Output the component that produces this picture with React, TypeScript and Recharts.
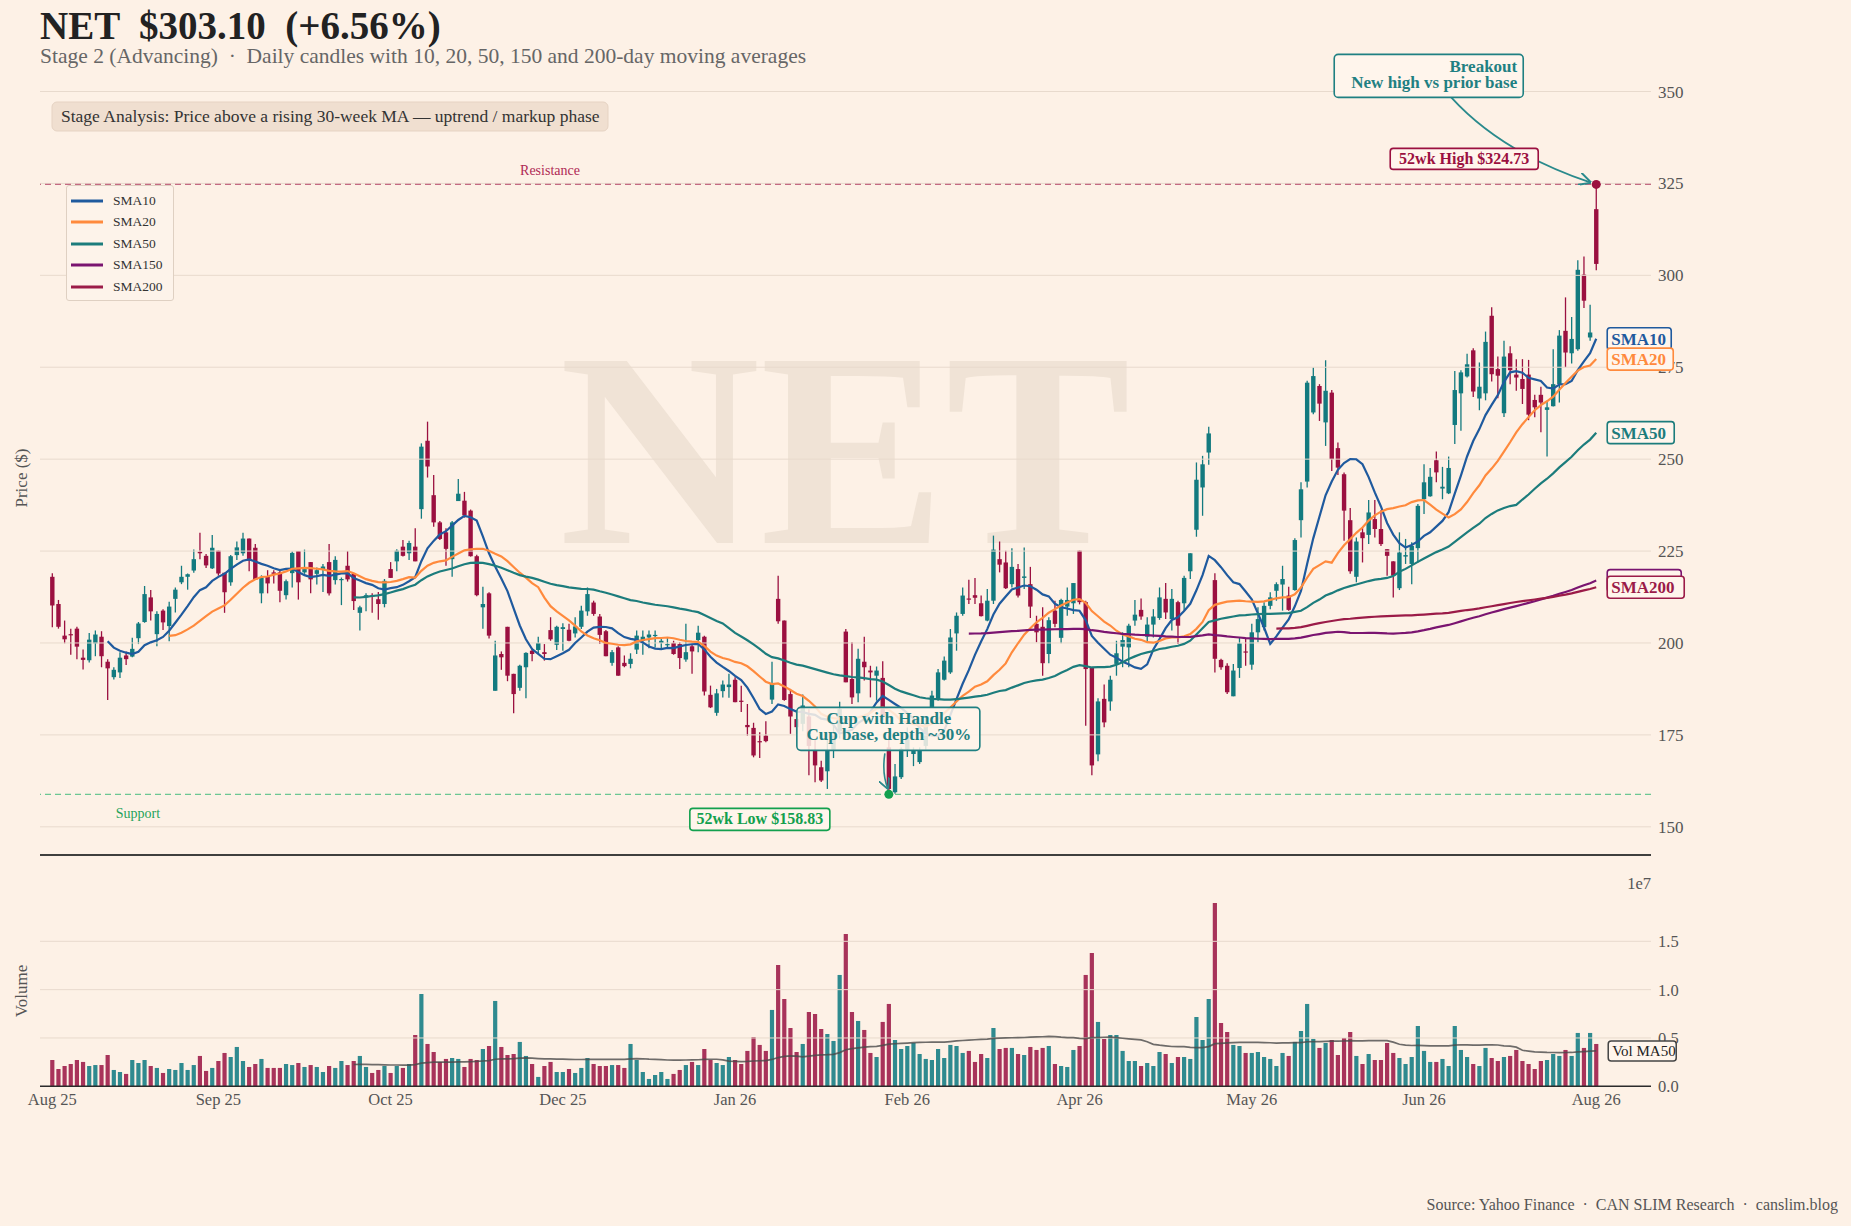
import React from 'react';
import {
  ComposedChart,
  Bar,
  Line,
  XAxis,
  YAxis,
  ReferenceLine,
  ReferenceDot,
  Legend,
  Cell,
} from 'recharts';

const FONT = '"Liberation Serif", "DejaVu Serif", serif';
const BG = '#fdf1e6';
const UP = '#137a7f';
const DOWN = '#9b1040';
const VOL_UP = '#2f8a8f';
const VOL_DOWN = '#a8335a';
const GRID = '#e8dacd';
const TEXT = '#555';

// daily candles, Aug 25 .. Aug 26
const openPx = [
  218.0, 210.6, 202.0, 202.4, 203.9, 196.0, 195.3, 199.9, 201.7, 194.9,
  190.7, 192.0, 196.6, 196.3, 201.3, 205.7, 212.4, 202.4, 208.8, 204.6,
  212.0, 216.5, 218.0, 219.7, 224.8, 223.7, 220.3, 225.1, 219.1, 216.5,
  223.9, 224.4, 228.4, 225.9, 213.5, 218.0, 219.2, 219.2, 213.0, 219.0,
  225.0, 219.2, 222.0, 218.8, 220.1, 222.0, 217.1, 217.1, 221.0, 218.9,
  208.2, 212.4, 212.9, 211.9, 210.6, 220.1, 222.2, 226.2, 224.4, 226.2,
  236.4, 255.0, 240.2, 232.8, 230.1, 222.8, 238.6, 238.7, 236.0, 223.6,
  209.7, 213.5, 187.0, 197.0, 204.4, 191.6, 187.8, 193.4, 197.9, 198.1,
  197.5, 203.5, 199.5, 203.8, 203.6, 202.6, 204.4, 208.6, 211.0, 207.2,
  203.2, 194.6, 198.8, 194.6, 194.3, 198.2, 200.6, 201.5, 201.9, 200.0,
  199.5, 200.0, 199.7, 195.5, 199.1, 200.8, 201.7, 185.9, 181.0, 186.9,
  188.0, 190.0, 184.3, 177.7, 176.9, 173.3, 174.8, 184.6, 212.0, 206.1,
  186.1, 179.3, 178.0, 180.0, 170.7, 166.2, 165.1, 171.0, 176.0, 203.1,
  190.2, 186.3, 194.9, 192.5, 191.1, 190.5, 171.6, 159.4, 163.5, 171.0,
  169.8, 167.6, 172.0, 182.5, 184.8, 190.0, 192.0, 202.6, 207.9, 212.1,
  213.0, 210.8, 206.1, 211.5, 222.8, 221.9, 216.0, 220.1, 217.7, 216.0,
  205.2, 204.4, 197.0, 208.8, 201.4, 209.9, 210.8, 225.1, 211.1, 193.4,
  169.7, 184.8, 184.1, 194.3, 199.0, 198.8, 206.1, 209.0, 201.7, 205.0,
  206.8, 212.0, 206.5, 211.1, 210.8, 219.5, 230.8, 242.3, 251.8, 217.1,
  195.4, 193.8, 185.5, 193.2, 197.7, 194.1, 202.9, 204.3, 210.1, 214.2,
  215.9, 212.9, 214.4, 233.4, 243.9, 262.7, 269.9, 260.0, 268.1, 253.0,
  245.9, 233.4, 218.0, 230.1, 229.4, 233.7, 231.0, 225.5, 222.2, 214.9,
  223.5, 221.5, 225.8, 239.1, 239.9, 249.7, 242.0, 240.7, 259.3, 267.9,
  272.5, 279.6, 266.5, 267.9, 289.0, 274.5, 262.5, 278.8, 273.0, 271.8,
  273.0, 266.1, 267.5, 263.4, 264.4, 270.4, 284.9, 278.8, 279.9, 300.2,
  283.1, 318.0,
];
const highPx = [
  219.0, 211.7, 206.1, 203.9, 204.4, 198.2, 202.7, 203.4, 203.2, 195.6,
  193.4, 197.5, 197.7, 201.4, 205.7, 215.5, 214.4, 208.6, 209.2, 211.2,
  215.1, 221.0, 218.9, 225.4, 230.0, 224.2, 229.4, 225.1, 219.1, 223.9,
  227.6, 230.0, 228.4, 226.9, 218.4, 219.8, 219.8, 219.8, 217.3, 224.9,
  225.0, 225.4, 222.0, 220.5, 221.5, 226.9, 223.6, 217.8, 225.0, 218.9,
  210.1, 213.5, 213.5, 213.9, 217.4, 222.0, 225.5, 228.0, 227.8, 231.2,
  254.3, 260.2, 245.7, 233.2, 231.2, 233.2, 244.6, 241.1, 236.3, 224.0,
  215.3, 213.8, 200.6, 197.7, 204.4, 191.6, 194.1, 197.5, 198.6, 201.7,
  199.7, 207.0, 204.7, 205.4, 205.2, 207.0, 210.1, 215.1, 211.5, 207.9,
  203.5, 198.1, 199.1, 196.6, 197.2, 203.4, 203.4, 203.4, 203.4, 201.5,
  201.5, 200.6, 200.2, 205.2, 199.7, 204.7, 202.0, 188.4, 187.5, 189.8,
  191.6, 190.7, 188.4, 183.4, 178.3, 175.7, 178.7, 194.9, 218.3, 206.1,
  187.5, 181.6, 186.0, 182.0, 174.0, 168.0, 174.0, 178.0, 184.0, 203.8,
  200.2, 198.4, 201.7, 193.8, 193.6, 195.0, 175.0, 167.1, 171.6, 177.0,
  171.6, 171.6, 180.0, 187.0, 192.9, 196.3, 203.8, 208.3, 215.1, 217.2,
  217.7, 212.9, 214.7, 229.2, 227.6, 225.1, 225.8, 221.5, 226.0, 220.7,
  207.4, 209.7, 207.0, 211.5, 212.0, 215.1, 216.3, 225.1, 211.5, 193.4,
  185.0, 188.7, 191.1, 200.6, 202.9, 205.2, 211.7, 212.1, 207.0, 209.2,
  215.1, 216.3, 214.7, 211.5, 218.3, 224.4, 249.1, 250.9, 258.8, 219.0,
  195.7, 194.5, 194.3, 201.5, 201.4, 205.2, 209.7, 211.1, 213.8, 216.5,
  221.0, 215.3, 228.5, 243.7, 271.3, 274.9, 270.4, 276.9, 268.8, 254.5,
  246.4, 236.7, 228.7, 231.4, 238.9, 238.9, 236.1, 225.5, 222.2, 230.1,
  228.3, 227.4, 237.8, 248.6, 247.6, 252.1, 247.9, 250.7, 274.0, 274.2,
  278.7, 280.2, 276.3, 284.7, 291.3, 277.9, 282.2, 280.7, 277.2, 277.2,
  277.0, 267.5, 269.7, 265.9, 279.9, 285.1, 294.0, 288.7, 304.1, 305.1,
  292.0, 324.73,
];
const lowPx = [
  204.3, 203.9, 199.9, 196.8, 195.6, 192.8, 194.7, 196.4, 193.4, 184.5,
  190.1, 190.5, 194.0, 196.1, 199.7, 205.5, 206.1, 199.1, 203.5, 200.5,
  208.3, 216.0, 214.5, 219.1, 222.8, 220.4, 220.1, 218.3, 208.2, 215.6,
  222.6, 223.7, 219.5, 217.2, 210.8, 213.5, 216.2, 211.1, 211.8, 215.1,
  211.8, 218.8, 213.5, 215.9, 213.9, 212.9, 215.9, 210.3, 216.7, 209.0,
  203.4, 208.6, 208.2, 206.3, 209.7, 217.7, 219.5, 223.5, 222.6, 222.2,
  233.8, 245.0, 231.6, 228.0, 221.0, 218.0, 238.6, 234.1, 223.5, 212.7,
  203.9, 201.2, 187.0, 192.7, 189.6, 180.9, 187.0, 185.0, 195.0, 197.0,
  195.2, 200.6, 198.1, 197.9, 200.5, 201.5, 203.8, 207.4, 207.4, 199.7,
  196.4, 193.8, 191.1, 193.4, 193.1, 197.0, 196.8, 198.6, 198.8, 198.4,
  198.4, 196.8, 192.9, 194.9, 191.6, 197.5, 185.7, 182.3, 180.2, 185.2,
  185.1, 183.9, 181.2, 174.8, 168.9, 168.7, 173.0, 183.4, 205.2, 184.3,
  175.3, 175.3, 176.0, 164.0, 162.1, 162.2, 160.3, 168.7, 174.0, 189.3,
  183.4, 183.9, 189.8, 185.2, 184.3, 179.0, 158.83, 159.0, 163.0, 169.0,
  166.5, 167.1, 171.0, 182.3, 184.3, 189.8, 191.6, 197.9, 207.4, 210.6,
  210.6, 207.2, 205.9, 210.6, 219.2, 214.7, 215.1, 212.4, 214.7, 206.8,
  200.2, 191.1, 194.5, 204.3, 199.9, 207.4, 207.9, 210.5, 177.5, 164.0,
  167.8, 177.1, 181.6, 191.1, 193.4, 193.4, 204.7, 206.3, 200.2, 201.5,
  206.3, 206.5, 203.4, 199.7, 208.8, 217.4, 228.9, 234.6, 248.5, 192.0,
  192.7, 186.1, 185.5, 190.5, 193.8, 192.7, 200.2, 203.4, 209.2, 211.5,
  208.8, 208.8, 214.2, 228.7, 242.3, 262.2, 260.4, 253.6, 246.8, 245.7,
  227.8, 218.8, 216.5, 221.9, 226.9, 228.7, 226.4, 218.3, 212.4, 214.4,
  221.5, 216.0, 221.9, 235.1, 239.8, 243.7, 239.1, 240.5, 254.1, 257.7,
  272.2, 266.9, 263.3, 266.0, 271.1, 266.6, 261.5, 270.4, 268.6, 265.0,
  260.6, 261.4, 257.3, 250.7, 264.3, 265.4, 275.0, 276.0, 279.5, 291.1,
  282.2, 301.4,
];
const closePx = [
  210.2, 204.4, 201.0, 202.2, 199.0, 195.4, 200.9, 202.3, 196.4, 193.1,
  192.7, 196.0, 195.6, 198.4, 205.3, 213.3, 208.6, 207.9, 205.6, 209.9,
  214.5, 218.0, 218.7, 222.8, 224.4, 221.1, 225.9, 218.9, 213.8, 223.6,
  226.0, 228.4, 222.4, 217.2, 217.8, 216.2, 218.8, 214.2, 216.8, 224.5,
  216.5, 220.1, 217.3, 219.8, 220.8, 213.5, 222.6, 217.4, 217.3, 211.4,
  209.7, 213.0, 212.7, 210.6, 216.9, 217.7, 225.1, 223.7, 227.2, 222.2,
  253.4, 248.0, 232.8, 228.3, 225.6, 232.8, 240.6, 234.7, 223.6, 213.0,
  210.6, 202.0, 196.6, 196.1, 191.1, 186.1, 193.8, 197.3, 197.0, 200.0,
  197.0, 201.0, 204.4, 204.3, 200.6, 204.5, 208.8, 213.3, 207.9, 202.2,
  196.4, 197.5, 191.1, 193.7, 195.7, 202.0, 201.7, 202.3, 202.2, 200.6,
  199.7, 197.0, 195.9, 197.5, 197.7, 202.8, 186.8, 182.5, 186.3, 188.7,
  188.7, 183.9, 184.0, 177.1, 169.4, 173.0, 173.3, 189.0, 205.9, 184.5,
  180.0, 177.1, 183.0, 172.0, 166.7, 162.6, 170.7, 175.0, 182.0, 189.3,
  185.2, 195.7, 193.4, 192.0, 192.5, 180.0, 160.3, 163.7, 171.2, 175.0,
  170.7, 170.7, 178.0, 185.7, 192.0, 195.2, 201.5, 207.4, 212.9, 211.9,
  212.3, 207.3, 211.5, 225.4, 221.3, 214.9, 220.7, 212.9, 218.1, 209.9,
  202.9, 194.5, 206.2, 205.2, 211.7, 211.7, 216.3, 211.1, 192.9, 166.7,
  184.1, 178.4, 190.0, 197.2, 200.8, 204.7, 207.7, 207.2, 205.0, 207.2,
  212.4, 208.3, 212.0, 204.7, 217.7, 224.4, 244.4, 248.6, 257.0, 195.7,
  193.4, 186.6, 192.5, 199.9, 197.5, 202.9, 206.5, 210.1, 212.4, 216.0,
  217.4, 209.0, 228.0, 241.8, 270.8, 272.6, 265.1, 268.6, 250.0, 247.7,
  236.0, 219.5, 227.6, 228.5, 235.5, 231.0, 226.9, 223.7, 218.3, 224.6,
  223.9, 226.4, 237.3, 243.7, 245.2, 246.4, 242.5, 247.6, 268.8, 273.6,
  275.8, 268.4, 269.7, 281.9, 273.1, 272.7, 277.9, 274.2, 272.2, 269.1,
  262.1, 264.1, 265.4, 264.1, 270.4, 283.6, 279.0, 282.7, 301.5, 293.1,
  284.45, 303.1,
];
// volume, millions of shares
const volumeM = [
  2.72, 1.79, 2.1, 2.31, 2.72, 2.52, 2.1, 2.2, 2.2, 3.24,
  1.69, 1.48, 1.28, 2.72, 2.41, 2.72, 2.1, 1.9, 1.38, 1.79,
  1.69, 2.41, 1.69, 2.2, 3.14, 1.59, 1.9, 2.62, 3.45, 3.03,
  4.07, 2.62, 2.0, 2.31, 2.83, 1.9, 1.9, 1.9, 2.31, 2.2,
  2.41, 2.0, 2.2, 2.0, 1.48, 2.1, 1.9, 2.62, 2.2, 2.62,
  3.14, 2.0, 1.38, 1.69, 2.1, 1.38, 2.1, 1.9, 2.31, 5.31,
  9.55, 4.38, 3.55, 2.52, 2.83, 2.93, 2.83, 2.0, 2.83, 2.72,
  3.86, 4.17, 8.83, 4.07, 3.24, 3.34, 4.59, 3.14, 2.31, 0.97,
  2.1, 2.52, 1.48, 1.48, 1.79, 1.38, 1.9, 2.93, 2.31, 2.1,
  2.1, 2.2, 2.2, 1.9, 4.38, 2.72, 1.48, 0.76, 1.17, 1.48,
  0.76, 1.28, 1.69, 2.2, 2.52, 2.2, 3.86, 2.72, 2.41, 2.2,
  3.03, 2.72, 2.31, 3.66, 5.1, 4.28, 3.66, 7.9, 12.55, 9.03,
  6.03, 3.55, 4.38, 7.69, 7.48, 5.93, 5.41, 4.69, 11.52, 15.76,
  7.69, 6.76, 5.83, 3.45, 3.03, 6.66, 8.52, 4.79, 3.86, 4.17,
  4.48, 3.34, 2.83, 2.72, 3.86, 2.93, 4.28, 4.17, 3.45, 3.66,
  2.52, 3.34, 2.93, 6.03, 3.86, 3.97, 3.97, 3.34, 3.24, 4.07,
  3.76, 3.97, 4.17, 2.31, 2.1, 2.0, 3.76, 4.17, 11.52, 13.79,
  6.66, 4.9, 5.31, 5.31, 3.66, 2.62, 2.62, 2.1, 2.41, 2.1,
  3.55, 3.34, 2.41, 3.03, 3.03, 2.83, 7.17, 4.79, 9.03, 18.97,
  6.55, 5.62, 4.28, 4.17, 3.45, 3.45, 3.55, 3.03, 2.83, 2.1,
  3.45, 3.14, 4.59, 5.72, 8.52, 4.9, 3.97, 4.48, 4.79, 3.24,
  5.0, 5.62, 3.14, 2.31, 3.34, 2.72, 2.72, 4.48, 3.45, 2.93,
  2.31, 3.03, 6.24, 3.66, 2.52, 2.52, 2.83, 2.1, 6.24, 3.76,
  3.03, 2.31, 2.1, 3.97, 2.93, 2.62, 3.03, 3.14, 3.76, 2.62,
  2.31, 1.79, 2.62, 2.72, 3.34, 3.14, 3.76, 3.14, 5.52, 3.97,
  5.52, 4.38,
];

const tickIdx = [0, 27, 55, 83, 111, 139, 167, 195, 223, 251];
const tickLabels = ['Aug 25', 'Sep 25', 'Oct 25', 'Dec 25', 'Jan 26', 'Feb 26', 'Apr 26', 'May 26', 'Jun 26', 'Aug 26'];
const priceTicks = [150, 175, 200, 225, 250, 275, 300, 325, 350];
const volTicks = [0, 5, 10, 15];

const maSeries = [
  { key: 'sma10', name: 'SMA10', n: 10, color: '#1f5a9e', w: 64 },
  { key: 'sma20', name: 'SMA20', n: 20, color: '#ff8a3d', w: 66 },
  { key: 'sma50', name: 'SMA50', n: 50, color: '#1c7c7c', w: 67 },
  { key: 'sma150', name: 'SMA150', n: 150, color: '#7a1470', w: 74 },
  { key: 'sma200', name: 'SMA200', n: 200, color: '#9b1b48', w: 77 },
];

const HIGH_52 = 324.73;
const LOW_52 = 158.83;
const HIGH_IDX = highPx.indexOf(HIGH_52);
const LOW_IDX = lowPx.indexOf(LOW_52);

const sma = (vals: number[], n: number) =>
  vals.map((_, i) =>
    i < n - 1 ? null : vals.slice(i - n + 1, i + 1).reduce((a, b) => a + b, 0) / n
  );

const maValues: Record<string, (number | null)[]> = {};
maSeries.forEach((m) => {
  maValues[m.key] = sma(closePx, m.n);
});
const volMa = sma(volumeM, 50);

const rows = closePx.map((c, i) => {
  const row: any = { i, o: openPx[i], h: highPx[i], l: lowPx[i], c, vol: volumeM[i], volMa: volMa[i] };
  maSeries.forEach((m) => {
    row[m.key] = maValues[m.key][i];
  });
  return row;
});
const LAST = rows.length - 1;

const Candle = (props: any) => {
  const { x, y, width, height, payload } = props;
  if (!payload || height == null) return null;
  const { o, h, l, c } = payload;
  const color = c >= o ? UP : DOWN;
  const span = h - l || 1;
  const yOf = (v: number) => y + ((h - v) / span) * height;
  const cx = x + width / 2;
  const top = yOf(Math.max(o, c));
  const bot = yOf(Math.min(o, c));
  const bw = 4.4;
  return (
    <g>
      <line x1={cx} x2={cx} y1={y} y2={y + height} stroke={color} strokeWidth={1.3} />
      <rect x={cx - bw / 2} y={top} width={bw} height={Math.max(bot - top, 1.2)} fill={color} />
    </g>
  );
};

const endLabel = (name: string, color: string, w: number) => (props: any) => {
  const { x, y, index } = props;
  if (index !== LAST || x == null || y == null) return null;
  return (
    <g>
      <rect x={x + 11} y={y - 11} width={w} height={22} rx={3} fill="#fff5ec" stroke={color} strokeWidth={1.6} />
      <text x={x + 15} y={y + 6} fill={color} fontFamily={FONT} fontSize={17} fontWeight={700}>
        {name}
      </text>
    </g>
  );
};

const volLabel = (props: any) => {
  const { x, y, index } = props;
  if (index !== LAST || x == null || y == null) return null;
  return (
    <g>
      <rect x={x + 12} y={y - 10} width={68} height={20} rx={3} fill="#fff5ec" stroke="#444" strokeWidth={1.5} />
      <text x={x + 16} y={y + 5} fill="#222" fontFamily={FONT} fontSize={15}>
        Vol MA50
      </text>
    </g>
  );
};

const HighMark = (p: any) => {
  const { cx, cy } = p;
  if (cx == null || cy == null) return null;
  return (
    <g>
      <defs>
        <marker id="arrTeal" viewBox="0 0 10 10" refX="9" refY="5" markerWidth="7" markerHeight="7" orient="auto">
          <path d="M0,0 L10,5 L0,10" fill="none" stroke="#2a8a8c" strokeWidth={1.6} />
        </marker>
      </defs>
      <path
        d={`M${cx - 145},${cy - 87} Q${cx - 95},${cy - 32} ${cx - 6},${cy - 2}`}
        stroke="#2a8a8c"
        strokeWidth={1.8}
        fill="none"
        markerEnd="url(#arrTeal)"
      />
      <rect x={cx - 262} y={cy - 130} width={189} height={43} rx={4} fill="#fff5ec" stroke="#1f8082" strokeWidth={1.6} />
      <text x={cx - 79} y={cy - 112.5} textAnchor="end" fill="#1f8082" fontFamily={FONT} fontSize={17} fontWeight={700}>
        Breakout
      </text>
      <text x={cx - 79} y={cy - 96} textAnchor="end" fill="#1f8082" fontFamily={FONT} fontSize={17} fontWeight={700}>
        New high vs prior base
      </text>
      <rect x={cx - 206} y={cy - 36} width={148} height={21} rx={3} fill="#fff5ec" stroke={DOWN} strokeWidth={1.6} />
      <text x={cx - 132} y={cy - 20} textAnchor="middle" fill={DOWN} fontFamily={FONT} fontSize={16} fontWeight={700}>
        52wk High ${HIGH_52.toFixed(2)}
      </text>
      <circle cx={cx} cy={cy} r={4.5} fill={DOWN} />
    </g>
  );
};

const LowMark = (p: any) => {
  const { cx, cy } = p;
  if (cx == null || cy == null) return null;
  return (
    <g>
      <defs>
        <marker id="arrTeal2" viewBox="0 0 10 10" refX="9" refY="5" markerWidth="7" markerHeight="7" orient="auto">
          <path d="M0,0 L10,5 L0,10" fill="none" stroke="#2a8a8c" strokeWidth={1.6} />
        </marker>
      </defs>
      <rect x={cx - 92} y={cy - 87} width={183} height={43} rx={4} fill="#fff4ea" fillOpacity={0.86} stroke="#1f8082" strokeWidth={1.6} />
      <text x={cx} y={cy - 70} textAnchor="middle" fill="#1f8082" fontFamily={FONT} fontSize={17} fontWeight={700}>
        Cup with Handle
      </text>
      <text x={cx} y={cy - 54} textAnchor="middle" fill="#1f8082" fontFamily={FONT} fontSize={17} fontWeight={700}>
        Cup base, depth ~30%
      </text>
      <path
        d={`M${cx - 4},${cy - 41} Q${cx - 7},${cy - 20} ${cx - 1},${cy - 6}`}
        stroke="#2a8a8c"
        strokeWidth={1.6}
        fill="none"
        markerEnd="url(#arrTeal2)"
      />
      <rect x={cx - 199} y={cy + 14} width={140} height={22} rx={3} fill="#fff5ec" stroke="#13a04e" strokeWidth={1.6} />
      <text x={cx - 129} y={cy + 30} textAnchor="middle" fill="#13a04e" fontFamily={FONT} fontSize={16} fontWeight={700}>
        52wk Low ${LOW_52.toFixed(2)}
      </text>
      <circle cx={cx} cy={cy} r={4.5} fill="#13a04e" />
    </g>
  );
};

const LegendBox = () => (
  <div
    style={{
      background: '#fdf3ea',
      border: '1px solid #dfd0c2',
      borderRadius: 3,
      padding: '4px 6px 2px 4px',
      fontFamily: FONT,
      fontSize: 13.5,
      color: '#333',
      width: 96,
    }}
  >
    {maSeries.map((m) => (
      <div key={m.key} style={{ display: 'flex', alignItems: 'center', height: 21.5 }}>
        <svg width={34} height={6} style={{ marginRight: 8 }}>
          <line x1={0} x2={32} y1={3} y2={3} stroke={m.color} strokeWidth={3} />
        </svg>
        {m.name}
      </div>
    ))}
  </div>
);

const xPadding = { left: 9.2, right: 51.7 };

export default function App() {
  return (
    <div style={{ position: 'absolute', left: 0, top: 0, width: 1851, height: 1226, background: BG, overflow: 'hidden' }}>
      <svg width={1851} height={1226} style={{ position: 'absolute', left: 0, top: 0 }}>
        <text x={845} y={543} textAnchor="middle" fill="#f0e3d6" fontFamily={FONT} fontSize={278} fontWeight={700}>
          NET
        </text>
      </svg>

      <div style={{ position: 'absolute', left: 0, top: 0 }}>
        <ComposedChart width={1851} height={870} data={rows} margin={{ top: 0, right: 140, bottom: 15, left: 40 }}>
          <XAxis dataKey="i" type="category" hide padding={xPadding} />
          <YAxis
            orientation="right"
            width={60}
            domain={[142.33, 374.89]}
            ticks={priceTicks}
            axisLine={false}
            tickLine={false}
            tickSize={0}
            tickMargin={7}
            tick={{ fill: TEXT, fontSize: 17, fontFamily: FONT }}
          />
          {priceTicks.map((t) => (
            <ReferenceLine key={`g${t}`} y={t} stroke={GRID} strokeWidth={1} />
          ))}
          <ReferenceLine y={142.33} stroke="#333" strokeWidth={1.5} ifOverflow="visible" />
          <ReferenceLine
            y={HIGH_52}
            stroke="#c46a82"
            strokeWidth={1.4}
            strokeDasharray="6 4"
            label={(p: any) => (
              <text x={p.viewBox.x + 510} y={p.viewBox.y - 9} textAnchor="middle" fill="#b02a55" fontFamily={FONT} fontSize={14}>
                Resistance
              </text>
            )}
          />
          <ReferenceLine
            y={LOW_52}
            stroke="#6cc792"
            strokeWidth={1.4}
            strokeDasharray="6 4"
            label={(p: any) => (
              <text x={p.viewBox.x + 98} y={p.viewBox.y + 24} textAnchor="middle" fill="#1fa35a" fontFamily={FONT} fontSize={14}>
                Support
              </text>
            )}
          />
          <Bar dataKey={(d: any) => [d.l, d.h]} shape={Candle} barCategoryGap={0} isAnimationActive={false} />
          {maSeries.map((m) => (
            <Line
              key={m.key}
              dataKey={m.key}
              name={m.name}
              stroke={m.color}
              strokeWidth={2.2}
              dot={false}
              activeDot={false}
              type="linear"
              isAnimationActive={false}
              label={endLabel(m.name, m.color, m.w)}
            />
          ))}
          <ReferenceDot x={LOW_IDX} y={LOW_52} ifOverflow="visible" shape={LowMark} />
          <ReferenceDot x={HIGH_IDX} y={HIGH_52} ifOverflow="visible" shape={HighMark} />
          <Legend
            layout="vertical"
            verticalAlign="middle"
            align="center"
            wrapperStyle={{ position: 'absolute', left: 66, top: 185, width: 107 }}
            content={() => <LegendBox />}
          />
        </ComposedChart>
      </div>

      <div style={{ position: 'absolute', left: 0, top: 840 }}>
        <ComposedChart width={1851} height={386} data={rows} margin={{ top: 15, right: 140, bottom: 109.7, left: 40 }} barCategoryGap="35%">
          <XAxis
            dataKey="i"
            type="category"
            padding={xPadding}
            ticks={tickIdx}
            interval={0}
            tickFormatter={(v: number) => tickLabels[tickIdx.indexOf(v)] ?? ''}
            axisLine={{ stroke: '#2b2b2b', strokeWidth: 1.6 }}
            tickLine={false}
            tickSize={0}
            tickMargin={7}
            height={30}
            tick={{ fill: TEXT, fontSize: 16.5, fontFamily: FONT }}
          />
          <YAxis
            orientation="right"
            width={60}
            domain={[0, 23.93]}
            ticks={volTicks}
            axisLine={false}
            tickLine={false}
            tickSize={0}
            tickMargin={7}
            tickFormatter={(v: number) => (v / 10).toFixed(1)}
            tick={{ fill: TEXT, fontSize: 16.5, fontFamily: FONT }}
          />
          {volTicks
            .filter((t) => t > 0)
            .map((t) => (
              <ReferenceLine key={`v${t}`} y={t} stroke={GRID} strokeWidth={1} />
            ))}
          <Bar dataKey="vol" barSize={4.2} isAnimationActive={false}>
            {rows.map((r) => (
              <Cell key={r.i} fill={r.c >= r.o ? VOL_UP : VOL_DOWN} />
            ))}
          </Bar>
          <Line
            dataKey="volMa"
            stroke="#4a4a4a"
            strokeOpacity={0.8}
            strokeWidth={1.7}
            dot={false}
            activeDot={false}
            isAnimationActive={false}
            label={volLabel}
          />
        </ComposedChart>
      </div>

      <svg width={1851} height={1226} style={{ position: 'absolute', left: 0, top: 0, pointerEvents: 'none' }}>
        {/* bottom spine of the price panel */}
        <line x1={40} x2={1651} y1={855} y2={855} stroke="#333" strokeWidth={1.6} />
        <text x={40} y={39} fill="#222" fontFamily={FONT} fontSize={39} fontWeight={700} style={{ whiteSpace: 'pre' }}>
          {'NET  $303.10  (+6.56%)'}
        </text>
        <text x={40} y={63} fill="#666" fontFamily={FONT} fontSize={21.5} style={{ whiteSpace: 'pre' }}>
          {'Stage 2 (Advancing)  ·  Daily candles with 10, 20, 50, 150 and 200-day moving averages'}
        </text>
        <rect x={52} y={102} width={556} height={29} rx={5} fill="#f0dfd0" stroke="#e6d3c3" />
        <text x={61} y={122} fill="#333" fontFamily={FONT} fontSize={17.5}>
          Stage Analysis: Price above a rising 30-week MA — uptrend / markup phase
        </text>
        <text transform="translate(27,478) rotate(-90)" textAnchor="middle" fill={TEXT} fontFamily={FONT} fontSize={17}>
          Price ($)
        </text>
        <text transform="translate(27,991) rotate(-90)" textAnchor="middle" fill={TEXT} fontFamily={FONT} fontSize={17}>
          Volume
        </text>
        <text x={1651} y={889} textAnchor="end" fill={TEXT} fontFamily={FONT} fontSize={16.5}>
          1e7
        </text>
        <text x={1838} y={1210} textAnchor="end" fill={TEXT} fontFamily={FONT} fontSize={16} style={{ whiteSpace: 'pre' }}>
          {'Source: Yahoo Finance  ·  CAN SLIM Research  ·  canslim.blog'}
        </text>
      </svg>
    </div>
  );
}
